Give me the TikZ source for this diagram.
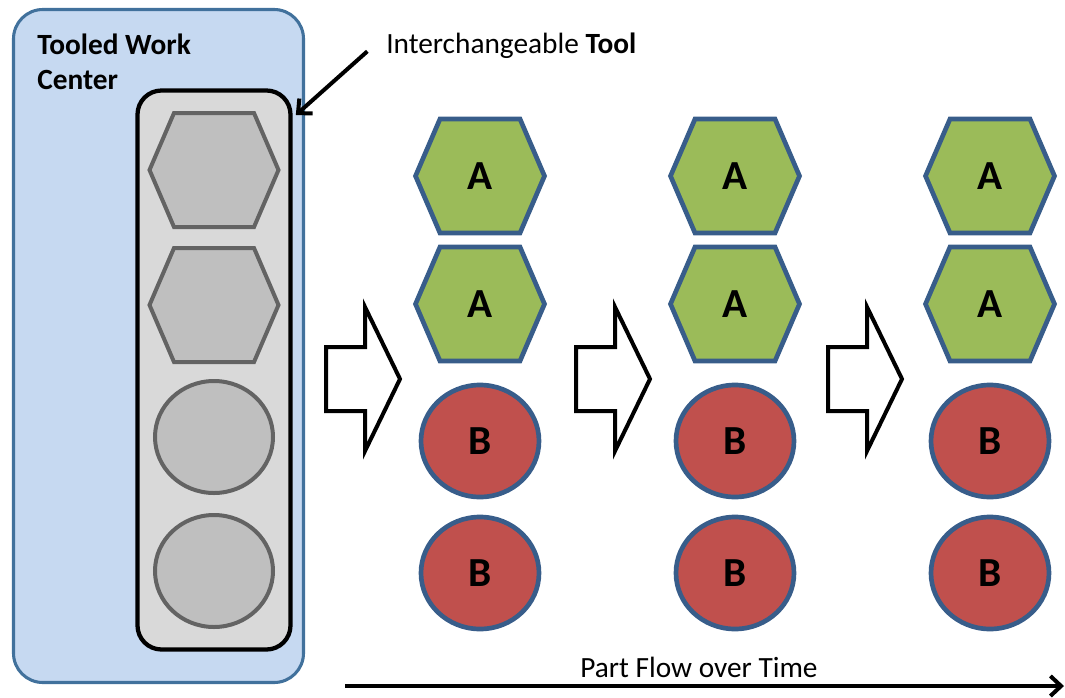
\documentclass[tikz,border=0pt]{standalone}
\usepackage{fontspec}
\setmainfont{Carlito}
\usetikzlibrary{arrows.meta,shapes.geometric}

\definecolor{panelfill}{HTML}{C6D9F1}
\definecolor{panelline}{HTML}{41719C}
\definecolor{toolfill}{HTML}{D9D9D9}
\definecolor{slotfill}{HTML}{BFBFBF}
\definecolor{slotline}{HTML}{636363}
\definecolor{partgreen}{HTML}{9BBB59}
\definecolor{partred}{HTML}{C0504D}
\definecolor{partline}{HTML}{385D8A}

\tikzset{
  panel/.style={draw=panelline, fill=panelfill, line width=2.3pt, rounded corners=22pt},
  toolbox/.style={rectangle, draw=black, fill=toolfill, line width=3.2pt, rounded corners=18pt,
    minimum width=114.75pt, minimum height=419.25pt, outer sep=0pt, inner sep=0pt},
  slothex/.style={draw=slotline, fill=slotfill, line width=3pt, line join=miter},
  slotcirc/.style={ellipse, draw=slotline, fill=slotfill, line width=3pt,
    minimum width=88.5pt, minimum height=84pt, inner sep=0pt},
  parthex/.style={draw=partline, fill=partgreen, line width=3.5pt, line join=miter},
  partcirc/.style={ellipse, draw=partline, fill=partred, line width=3.5pt,
    minimum width=88.5pt, minimum height=84pt, inner sep=0pt},
  partlabel/.style={font=\fontsize{31}{33}\selectfont\bfseries, inner sep=0pt},
  flowarrow/.style={draw=black, fill=white, line width=3pt, line join=miter},
  caption/.style={font=\fontsize{22}{26}\selectfont, inner sep=0pt},
  pointer/.style={draw=black, line width=3pt, -{Straight Barb[length=8pt,width=15pt,line width=3pt]}},
}

% flat-topped hexagon around a named coordinate
\newcommand\hexagonat[2]{%
  \draw[#1] (#2) ++(-64.5,0) -- ++(24.5,-57) -- ++(80,0) -- ++(24.5,57)
    -- ++(-24.5,57) -- ++(-80,0) -- cycle;}
% hollow block arrow, reference point at the middle of its tail
\newcommand\blockarrowat[1]{%
  \draw[flowarrow] (#1) ++(0,-32) -- ++(39,0) -- ++(0,-40) -- ++(35,72)
    -- ++(-35,72) -- ++(0,-40) -- ++(-39,0) -- cycle;}

\begin{document}
\begin{tikzpicture}[x=0.75pt, y=-0.75pt]
\useasboundingbox (0,0) rectangle (1065,697);

% work center panel
\draw[panel] (13.5,9.5) rectangle (303.5,682.5);
\node[caption, font=\fontsize{22}{26}\selectfont\bfseries, align=left, anchor=north west]
  (wc) at (37,34) {Tooled Work\\Center};

% interchangeable tool holder with its slots
\node[toolbox] (tool) at (214,370) {};
\coordinate (s1) at (214,170);
\coordinate (s2) at (214,305);
\hexagonat{slothex}{s1}
\hexagonat{slothex}{s2}
\node[slotcirc] (s3) at (214,437) {};
\node[slotcirc] (s4) at (214,571) {};

\node[caption, anchor=west] (itool) at (386,46) {Interchangeable \textbf{Tool}};
\draw[pointer] ([xshift=-14pt,yshift=-4pt]itool.west) -- ([xshift=4pt,yshift=-18.4pt]tool.north east);

% parts flowing through the work center
\foreach \col/\cx in {1/480,2/735,3/990}{
  \coordinate (h\col a) at (\cx,176);
  \coordinate (h\col b) at (\cx,304);
  \hexagonat{parthex}{h\col a}
  \hexagonat{parthex}{h\col b}
  \node[partlabel] (a\col a) at (h\col a) {A};
  \node[partlabel] (a\col b) at (h\col b) {A};
  \node[partcirc] (b\col a) at (\cx,441) {};
  \node[partlabel] at (b\col a) {B};
  \node[partcirc] (b\col b) at (\cx,573) {};
  \node[partlabel] at (b\col b) {B};
}

% block arrows between stages
\coordinate (ar1) at (326,379);
\coordinate (ar2) at (576,379);
\coordinate (ar3) at (828,379);
\blockarrowat{ar1}
\blockarrowat{ar2}
\blockarrowat{ar3}

% time axis
\coordinate (flowstart) at (345,686);
\coordinate (flowend) at (1064,686);
\draw[pointer] (flowstart) -- (flowend);
\node[caption] (flow) at (699,667) {Part Flow over Time};
\end{tikzpicture}
\end{document}
